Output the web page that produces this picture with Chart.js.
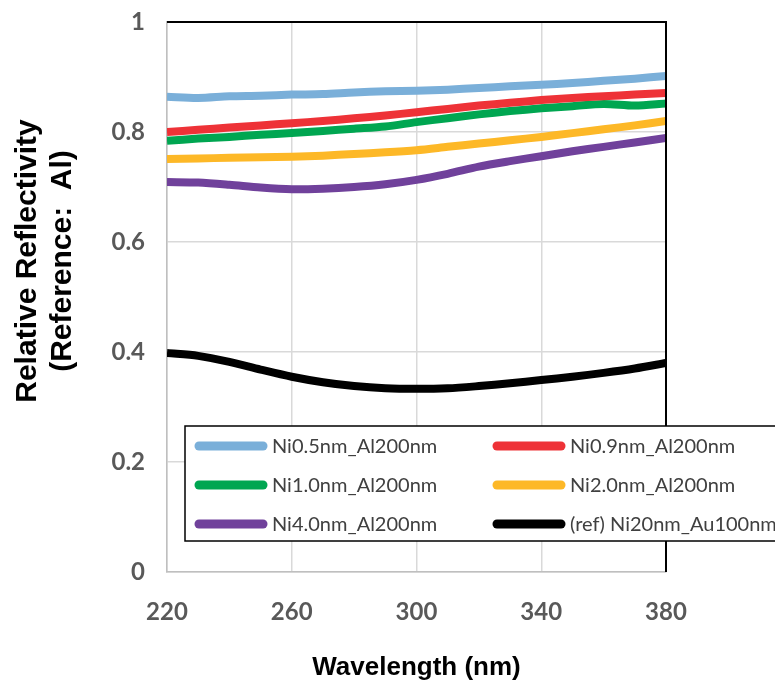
<!DOCTYPE html>
<html>
<head>
<meta charset="utf-8">
<title>Relative Reflectivity</title>
<script src="https://cdn.jsdelivr.net/npm/chart.js@4"></script>
<style>
  html, body { margin: 0; padding: 0; background: #fff; }
  canvas { display: block; }
</style>
</head>
<body>
<canvas id="reflectivityChart" width="775" height="688"></canvas>
<script>
// wavelength samples (nm)
const wavelengths = [220, 230, 240, 250, 260, 270, 280, 290, 300, 310, 320, 330, 340, 350, 360, 370, 380];

// relative reflectivity, reference: Al
const ni05 = [0.864, 0.862, 0.865, 0.866, 0.868, 0.869, 0.872, 0.874, 0.875, 0.877, 0.880, 0.883, 0.886, 0.889, 0.893, 0.897, 0.902];
const ni09 = [0.800, 0.804, 0.808, 0.812, 0.816, 0.820, 0.825, 0.830, 0.836, 0.842, 0.848, 0.853, 0.858, 0.862, 0.865, 0.868, 0.871];
const ni10 = [0.784, 0.788, 0.791, 0.795, 0.798, 0.802, 0.806, 0.810, 0.818, 0.825, 0.832, 0.838, 0.843, 0.847, 0.851, 0.848, 0.852];
const ni20 = [0.751, 0.752, 0.753, 0.754, 0.755, 0.757, 0.760, 0.763, 0.767, 0.773, 0.779, 0.785, 0.791, 0.798, 0.805, 0.812, 0.820];
const ni40 = [0.709, 0.708, 0.704, 0.699, 0.696, 0.697, 0.700, 0.705, 0.713, 0.724, 0.737, 0.747, 0.756, 0.765, 0.773, 0.781, 0.789];
const refAu = [0.398, 0.393, 0.382, 0.368, 0.355, 0.345, 0.338, 0.334, 0.333, 0.334, 0.338, 0.343, 0.349, 0.355, 0.362, 0.370, 0.380];

const seriesNames = ['Ni0.5nm_Al200nm', 'Ni0.9nm_Al200nm', 'Ni1.0nm_Al200nm', 'Ni2.0nm_Al200nm', 'Ni4.0nm_Al200nm', '(ref) Ni20nm_Au100nm'];
const seriesValues = [ni05, ni09, ni10, ni20, ni40, refAu];
const seriesColors = ['#7aafd9', '#ee3237', '#00a651', '#fdb827', '#70419b', '#000000'];

const xTicks = [220, 260, 300, 340, 380];
const yTicks = [0, 0.2, 0.4, 0.6, 0.8, 1];
const yTickLabels = ['0', '0.2', '0.4', '0.6', '0.8', '1'];

const xTitle = 'Wavelength (nm)';
const yTitle = ['Relative Reflectivity', '(Reference:  Al)'];

const tickFont = { family: 'Lato', size: 24, weight: 'bold' };
const xTitleFont = 'bold 26px "Liberation Sans", Arial, sans-serif';
const yTitleFont = 'bold 30px "Liberation Sans", Arial, sans-serif';
const legendFont = '20px Lato, sans-serif';

const datasets = seriesNames.map((name, i) => ({
    label: name,
    data: wavelengths.map((w, j) => ({ x: w, y: seriesValues[i][j] })),
    borderColor: seriesColors[i],
    backgroundColor: seriesColors[i],
    borderWidth: 8,
    pointRadius: 0,
    tension: 0.3,
    fill: false
}));

// black frame on the top and right of the plot area
const plotFrame = {
    id: 'plotFrame',
    afterDatasetsDraw(chart) {
        const { ctx, chartArea: a } = chart;
        ctx.save();
        ctx.strokeStyle = '#000';
        ctx.lineWidth = 2;
        ctx.beginPath();
        ctx.moveTo(a.left, a.top);
        ctx.lineTo(a.right, a.top);
        ctx.lineTo(a.right, a.bottom);
        ctx.stroke();
        ctx.restore();
    }
};

// axis titles
const axisTitles = {
    id: 'axisTitles',
    afterDraw(chart) {
        const { ctx, chartArea: a } = chart;
        ctx.save();
        ctx.fillStyle = '#000';
        ctx.textAlign = 'center';
        ctx.textBaseline = 'middle';
        ctx.font = xTitleFont;
        ctx.fillText(xTitle, (a.left + a.right) / 2, 668);

        ctx.font = yTitleFont;
        ctx.translate(0, 261);
        ctx.rotate(-Math.PI / 2);
        ctx.fillText(yTitle[0], 0, 28);
        ctx.fillText(yTitle[1], 0, 63);
        ctx.restore();
    }
};

// boxed legend, two columns, sitting inside the plot
const boxLegend = {
    id: 'boxLegend',
    afterDraw(chart) {
        const { ctx } = chart;
        const box = { x: 185, y: 426, w: 620, h: 115 };
        const cols = [195, 493];
        const rows = [446, 485, 524];
        const sample = 72;
        ctx.save();
        ctx.fillStyle = '#fff';
        ctx.fillRect(box.x, box.y, box.w, box.h);
        ctx.strokeStyle = '#000';
        ctx.lineWidth = 1.5;
        ctx.strokeRect(box.x, box.y, box.w, box.h);

        ctx.font = legendFont;
        ctx.textAlign = 'left';
        ctx.textBaseline = 'middle';
        chart.data.datasets.forEach((ds, i) => {
            const x = cols[i % 2];
            const y = rows[Math.floor(i / 2)];
            ctx.strokeStyle = ds.borderColor;
            ctx.lineWidth = 9;
            ctx.lineCap = 'round';
            ctx.beginPath();
            ctx.moveTo(x + 4, y);
            ctx.lineTo(x + sample - 4, y);
            ctx.stroke();
            ctx.fillStyle = '#404040';
            ctx.fillText(ds.label, x + sample + 5, y + 1);
        });
        ctx.restore();
    }
};

new Chart(document.getElementById('reflectivityChart'), {
    type: 'line',
    data: { datasets },
    plugins: [plotFrame, axisTitles, boxLegend],
    options: {
        responsive: false,
        animation: false,
        layout: { padding: { top: 22, right: 109, bottom: 0, left: 0 } },
        plugins: {
            legend: { display: false },
            tooltip: { enabled: false }
        },
        scales: {
            x: {
                type: 'linear',
                min: xTicks[0],
                max: xTicks[xTicks.length - 1],
                afterBuildTicks: scale => { scale.ticks = xTicks.map(v => ({ value: v })); },
                afterFit: scale => {
                    scale.height = 116;
                    scale.paddingLeft = 0;
                    scale.paddingRight = 0;
                },
                grid: { color: '#d9d9d9', lineWidth: 1.5, drawTicks: false },
                border: { color: '#bfbfbf', width: 1.5 },
                ticks: { font: tickFont, color: '#595959', padding: 26, maxRotation: 0 }
            },
            y: {
                min: yTicks[0],
                max: yTicks[yTicks.length - 1],
                afterBuildTicks: scale => { scale.ticks = yTicks.map(v => ({ value: v })); },
                afterFit: scale => {
                    scale.width = 167;
                    scale.paddingTop = 0;
                    scale.paddingBottom = 0;
                },
                grid: { color: '#d9d9d9', lineWidth: 1.5, drawTicks: false },
                border: { color: '#bfbfbf', width: 1.5 },
                ticks: {
                    font: tickFont,
                    color: '#595959',
                    padding: 22,
                    callback: value => yTickLabels[yTicks.indexOf(value)] ?? String(value)
                }
            }
        }
    }
});
</script>
</body>
</html>
